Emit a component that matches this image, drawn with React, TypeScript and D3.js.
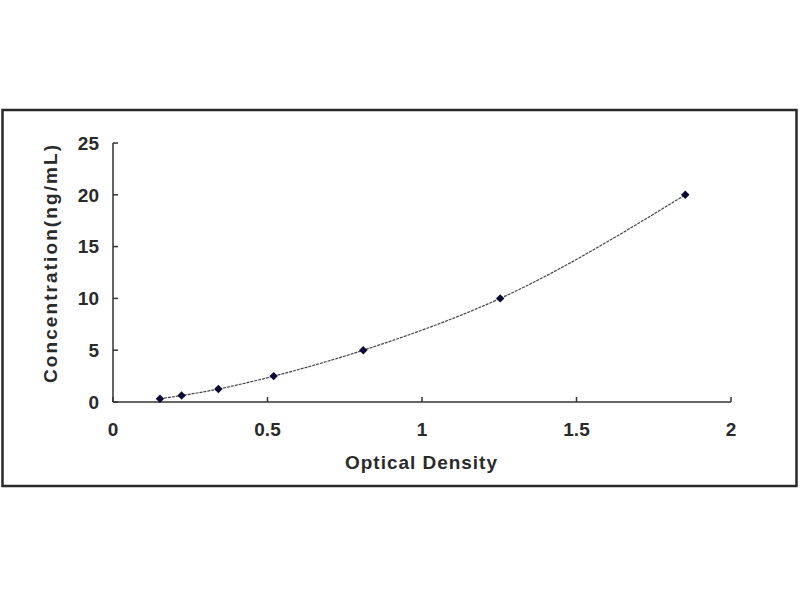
import React from "react";
import * as d3 from "d3";

const opticalDensity = [0.152, 0.222, 0.341, 0.52, 0.81, 1.253, 1.852];
const concentration = [0.312, 0.625, 1.25, 2.5, 5, 10, 20];
const xTicks = [0, 0.5, 1, 1.5, 2];
const yTicks = [0, 5, 10, 15, 20, 25];
const xTitle = "Optical Density";
const yTitle = "Concentration(ng/mL)";

export default function App() {
  const W = 800;
  const H = 600;
  const left = 113;
  const right = 731;
  const top = 143;
  const bottom = 402;
  const x = d3.scaleLinear().domain([0, 2]).range([left, right]);
  const y = d3.scaleLinear().domain([0, 25]).range([bottom, top]);
  const pts = opticalDensity.map((d, i) => [d, concentration[i]] as [number, number]);
  const line = d3
    .line<[number, number]>()
    .x((d) => x(d[0]))
    .y((d) => y(d[1]))
    .curve(d3.curveMonotoneX);
  const diamond = d3.symbol().type(d3.symbolDiamond2).size(45)() as string;
  const font = "'Liberation Sans', Arial, sans-serif";
  const axisColor = "#333";

  return (
    <svg
      width={W}
      height={H}
      style={{ position: "absolute", left: 0, top: 0, background: "#fff" }}
      fontFamily={font}
    >
      <rect x={0} y={0} width={W} height={H} fill="#fff" />
      <rect x={2.5} y={110} width={794} height={376} fill="none" stroke="#2a2a2a" strokeWidth={2.5} />

      {/* axes */}
      <line x1={left} x2={left} y1={top} y2={bottom} stroke={axisColor} strokeWidth={1.5} />
      <line x1={left} x2={right} y1={bottom} y2={bottom} stroke={axisColor} strokeWidth={1.5} />
      {yTicks.map((t) => (
        <g key={"y" + t}>
          <line x1={left} x2={left + 5} y1={y(t)} y2={y(t)} stroke={axisColor} strokeWidth={1.5} />
          <text
            x={left - 14}
            y={y(t)}
            dy="0.36em"
            textAnchor="end"
            fontSize={19}
            fontWeight="bold"
            fill="#2a2a2a"
          >
            {t}
          </text>
        </g>
      ))}
      {xTicks.map((t) => (
        <g key={"x" + t}>
          <line x1={x(t)} x2={x(t)} y1={bottom} y2={bottom - 5} stroke={axisColor} strokeWidth={1.5} />
          <text x={x(t)} y={436} textAnchor="middle" fontSize={19} fontWeight="bold" fill="#2a2a2a">
            {t}
          </text>
        </g>
      ))}

      <text
        x={421}
        y={469}
        textAnchor="middle"
        fontSize={19}
        fontWeight="bold"
        fill="#2a2a2a"
        textLength={152}
        lengthAdjust="spacing"
      >
        {xTitle}
      </text>
      <text
        transform="translate(57,264) rotate(-90)"
        textAnchor="middle"
        fontSize={19}
        fontWeight="bold"
        fill="#2a2a2a"
        textLength={238}
        lengthAdjust="spacing"
      >
        {yTitle}
      </text>

      <path d={line(pts) || ""} fill="none" stroke="#444" strokeWidth={1.2} strokeDasharray="3,1" />
      {pts.map((p, i) => (
        <path key={i} d={diamond} transform={`translate(${x(p[0])},${y(p[1])})`} fill="#0a0a33" />
      ))}
    </svg>
  );
}
